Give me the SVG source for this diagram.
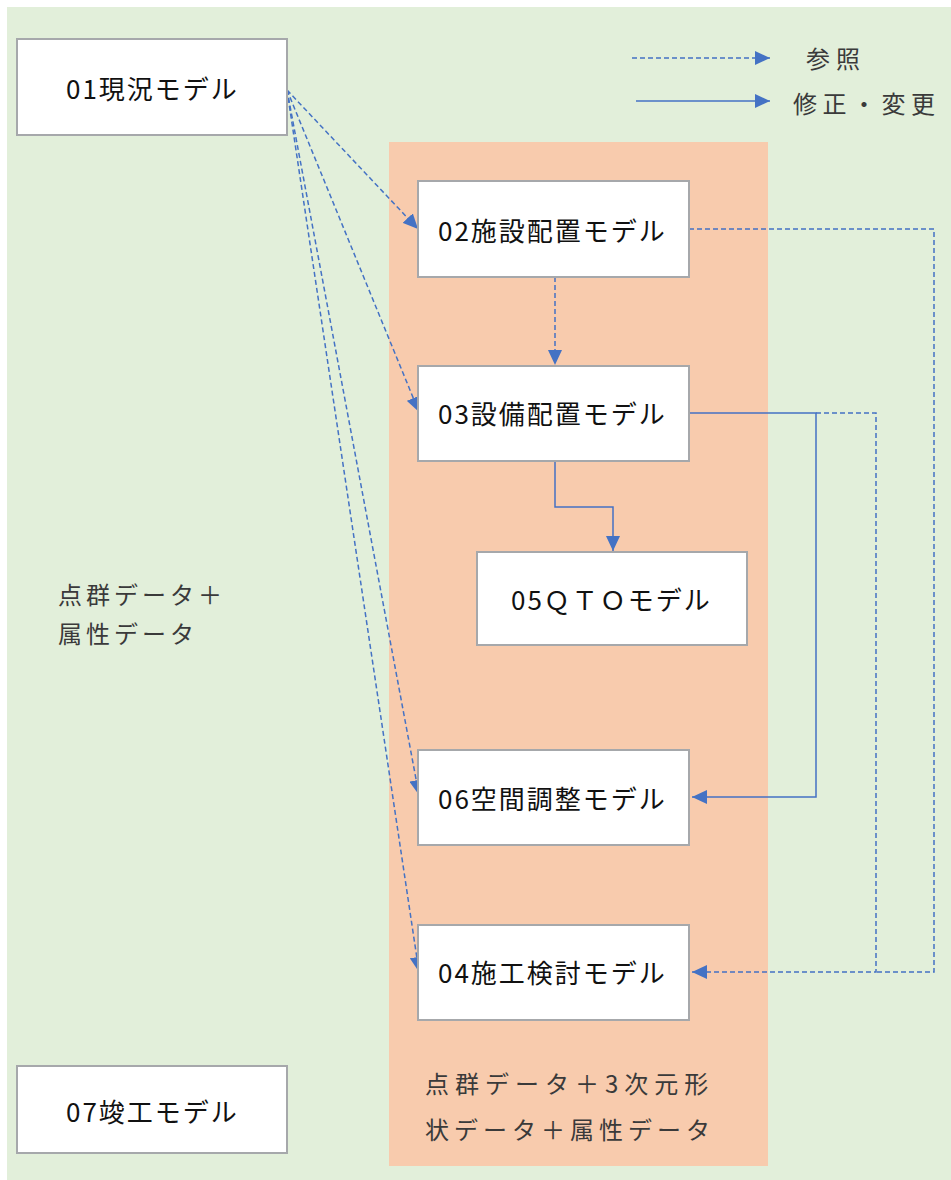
<svg xmlns="http://www.w3.org/2000/svg" width="951" height="1180" viewBox="0 0 951 1180">
<defs>
<style>
.box{fill:#ffffff;stroke:#a6a8ab;stroke-width:2}
.lbl{font-family:"Noto Sans CJK JP","Noto Sans",sans-serif;font-size:26px;letter-spacing:2px;fill:#111111;dominant-baseline:central}
.note{font-family:"Noto Sans CJK JP","Noto Sans",sans-serif;font-size:24px;letter-spacing:4px;fill:#3a3a3a;dominant-baseline:central}
.ref{fill:none;stroke:#4472c4;stroke-width:1.5;stroke-dasharray:5 3}
.mod{fill:none;stroke:#4472c4;stroke-width:1.5}
</style>
<marker id="ah" markerUnits="userSpaceOnUse" markerWidth="16" markerHeight="14" refX="15" refY="7" orient="auto">
<path d="M0,0 L15,7 L0,14 z" fill="#4472c4"/>
</marker>
</defs>
<rect x="0" y="0" width="951" height="1180" fill="#ffffff"/>
<rect x="7" y="7" width="944" height="1173" fill="#e2efda"/>
<rect x="389" y="142" width="379" height="1024" fill="#f8cbad"/>

<g id="legend">
<line class="ref" x1="632" y1="58" x2="770" y2="58" marker-end="url(#ah)"/>
<text class="note" x="806" y="57" style="letter-spacing:6px">参照</text>
<line class="mod" x1="636" y1="101" x2="770" y2="101" marker-end="url(#ah)"/>
<text class="note" x="793" y="102" style="letter-spacing:5.5px">修正・変更</text>
</g>

<g id="connectors">
<line class="ref" x1="287" y1="90" x2="418" y2="229" marker-end="url(#ah)"/>
<line class="ref" x1="287" y1="90" x2="419" y2="412" marker-end="url(#ah)"/>
<line class="ref" x1="287" y1="90" x2="419" y2="795" marker-end="url(#ah)"/>
<line class="ref" x1="287" y1="90" x2="419" y2="972" marker-end="url(#ah)"/>
<line class="ref" x1="555" y1="277" x2="555" y2="365" marker-end="url(#ah)"/>
<polyline class="mod" points="555,461 555,507 613,507 613,551" marker-end="url(#ah)"/>
<polyline class="mod" points="689,413 816,413 816,797 692,797" marker-end="url(#ah)"/>
<polyline class="ref" points="816,413 876,413 876,972 692,972" marker-end="url(#ah)"/>
<polyline class="ref" points="689,229 934,229 934,972 876,972"/>
</g>

<g id="n01"><rect class="box" x="17" y="39" width="270" height="96"/><text class="lbl" x="66" y="87">01現況モデル</text></g>
<g id="n02"><rect class="box" x="418" y="181" width="271" height="96"/><text class="lbl" x="438" y="229">02施設配置モデル</text></g>
<g id="n03"><rect class="box" x="418" y="366" width="271" height="95"/><text class="lbl" x="438" y="412">03設備配置モデル</text></g>
<g id="n05"><rect class="box" x="477" y="552" width="270" height="93"/><text class="lbl" x="511" y="598">05ＱＴＯモデル</text></g>
<g id="n06"><rect class="box" x="418" y="750" width="271" height="95"/><text class="lbl" x="438" y="797">06空間調整モデル</text></g>
<g id="n04"><rect class="box" x="418" y="925" width="271" height="95"/><text class="lbl" x="438" y="971">04施工検討モデル</text></g>
<g id="n07"><rect class="box" x="17" y="1066" width="270" height="87"/><text class="lbl" x="66" y="1110">07竣工モデル</text></g>

<g id="notes">
<text class="note" x="58" y="593">点群データ＋</text>
<text class="note" x="58" y="632">属性データ</text>
<text class="note" x="425" y="1082" style="letter-spacing:6px">点群データ＋3次元形</text>
<text class="note" x="425" y="1128" style="letter-spacing:5px">状データ＋属性データ</text>
</g>
</svg>
